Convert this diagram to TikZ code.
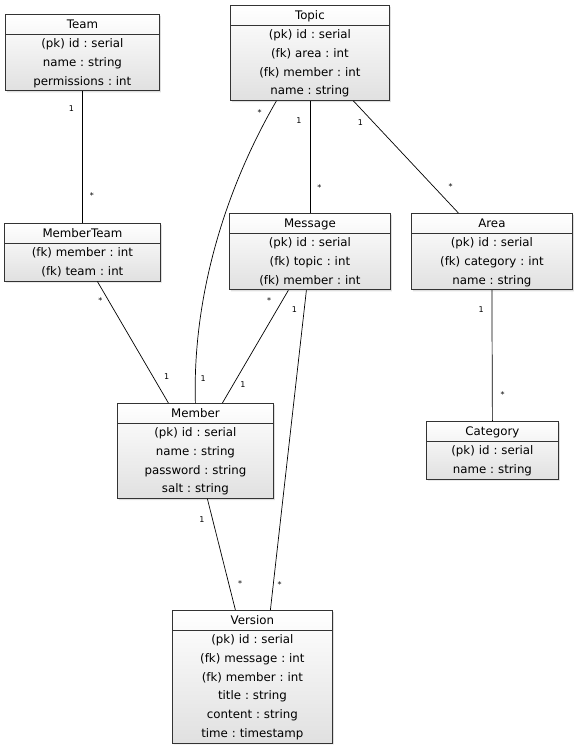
\documentclass[tikz,border=0pt]{standalone}
\usepackage{fontspec}
\setmainfont{DejaVu Sans}
\usetikzlibrary{shapes}
\usetikzlibrary{shadows}
\frenchspacing
\newcommand{\rs}{\rule[-5.4pt]{0pt}{18.7pt}}

\begin{document}
\begin{tikzpicture}[x=1pt, y=-1pt,
entity/.style={rectangle split, rectangle split parts=2, draw=black!80, line width=0.8pt,
top color=white, bottom color=black!12, align=center, inner xsep=0pt, inner ysep=0pt,
anchor=north west, font=\fontsize{11.8}{18.7}\selectfont,
drop shadow={shadow xshift=1.5pt, shadow yshift=-1.5pt, opacity=0.25}},
card/.style={font=\fontsize{8}{9}\selectfont, inner sep=2pt},
link/.style={draw, line width=0.7pt}]
\useasboundingbox (0,0) rectangle (578,748);

\node[entity, text width=154pt] (team) at (5,14)
{\rs Team\nodepart{two}\rs(pk) id : serial\\name : string\\permissions : int\rs};
\node[entity, text width=159pt] (topic) at (230,5)
{\rs Topic\nodepart{two}\rs(pk) id : serial\\(fk) area : int\\(fk) member : int\\name : string\rs};
\node[entity, text width=156pt] (memberteam) at (4,223)
{\rs MemberTeam\nodepart{two}\rs(fk) member : int\\(fk) team : int\rs};
\node[entity, text width=161pt] (message) at (229,213)
{\rs Message\nodepart{two}\rs(pk) id : serial\\(fk) topic : int\\(fk) member : int\rs};
\node[entity, text width=161pt] (area) at (411,213)
{\rs Area\nodepart{two}\rs(pk) id : serial\\(fk) category : int\\name : string\rs};
\node[entity, text width=156pt] (member) at (117,403)
{\rs Member\nodepart{two}\rs(pk) id : serial\\name : string\\password : string\\salt : string\rs};
\node[entity, text width=132pt] (category) at (426,421)
{\rs Category\nodepart{two}\rs(pk) id : serial\\name : string\rs};
\node[entity, text width=160pt] (version) at (172,610)
{\rs Version\nodepart{two}\rs(pk) id : serial\\(fk) message : int\\(fk) member : int\\title : string\\content : string\\time : timestamp\rs};

\draw[link] (team.south) -- (memberteam.north)
node[card, pos=0.13, left=6pt] {1} node[card, pos=0.79, right=5pt] {*};
\draw[link] (topic.south) -- (message.north)
node[card, pos=0.18, left=6pt] {1} node[card, pos=0.77, right=5pt] {*};
\draw[link] ([xshift=43.5pt]topic.south) -- ([xshift=-33.5pt]area.north)
node[card, pos=0.19, left=8pt] {1} node[card, pos=0.76, right=13pt] {*};
\draw[link] ([xshift=-33.5pt]topic.south) .. controls +(-55,95) and +(-3,-100) .. (member.north)
node[card, pos=0.04, left=6pt] {*} node[card, pos=0.92, right=3pt] {1};
\draw[link] ([xshift=15pt]memberteam.south) -- ([xshift=-27pt]member.north)
node[card, pos=0.16, left=4pt] {*} node[card, pos=0.78, right=9pt] {1};
\draw[link] ([xshift=-21.5pt]message.south) -- ([xshift=27pt]member.north)
node[card, pos=0.09, left=9pt] {*} node[card, pos=0.84, right=5pt] {1};
\draw[link] ([xshift=-3.5pt]message.south) -- ([xshift=18pt]version.north)
node[card, pos=0.06, left=5pt] {1} node[card, pos=0.92, right=2pt] {*};
\draw[link] (area.south) -- (category.north)
node[card, pos=0.15, left=6pt] {1} node[card, pos=0.8, right=6pt] {*};
\draw[link] ([xshift=12pt]member.south) -- ([xshift=-17pt]version.north)
node[card, pos=0.19, left=6pt] {1} node[card, pos=0.76, right=7pt] {*};
\end{tikzpicture}
\end{document}
